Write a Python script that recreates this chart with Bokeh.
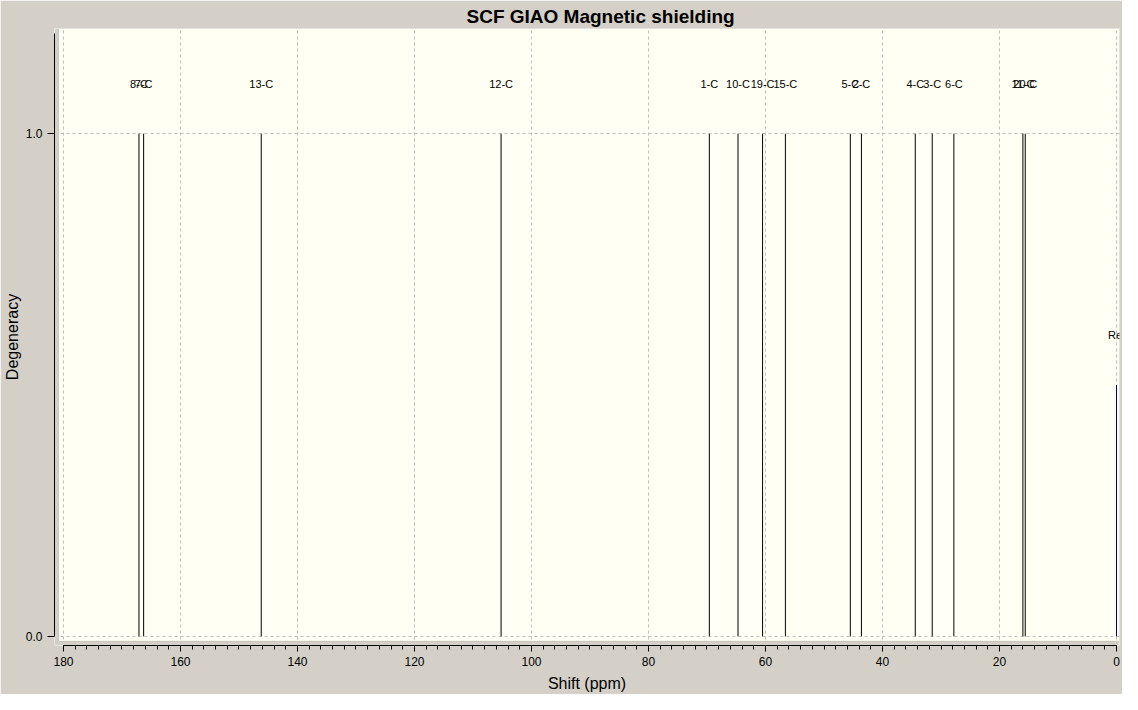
from bokeh.plotting import figure
from bokeh.models import (ColumnDataSource, Range1d, FixedTicker, PrintfTickFormatter,
                          BoxAnnotation)
from bokeh.core.properties import value
from bokeh.embed import file_html
from bokeh.resources import INLINE

# ---- data ----
atom_labels = ["8-C", "7-C", "13-C", "12-C", "1-C", "10-C", "19-C", "15-C",
               "5-C", "2-C", "4-C", "3-C", "6-C", "11-C", "20-C"]
shifts = [167.1, 166.3, 146.2, 105.2, 69.6, 64.7, 60.5, 56.6,
          45.5, 43.6, 34.4, 31.5, 27.8, 16.0, 15.6]
degeneracy = [1.0, 1.0, 1.0, 1.0, 1.0, 1.0, 1.0, 1.0,
              1.0, 1.0, 1.0, 1.0, 1.0, 1.0, 1.0]
ref_labels = ["Ref"]
ref_shifts = [0.0]
ref_degeneracy = [0.5]

x_ticks = [0, 20, 40, 60, 80, 100, 120, 140, 160, 180]
x_minor_ticks = list(range(0, 181, 2))
y_ticks = [0, 1]

# ---- styling ----
GRAY = "#d4d0c8"
CREAM = "#fffff4"
FONT = "Liberation Sans"

X_START, X_END = 181.537, -0.512
CREAM_LEFT = 180.854
Y_START, Y_END = -0.0181, 1.2093
CREAM_BOTTOM = -0.00975

p = figure(width=1122, height=694, output_backend="svg", toolbar_location=None,
           x_range=Range1d(X_START, X_END), y_range=Range1d(Y_START, Y_END),
           title="SCF GIAO Magnetic shielding",
           min_border_left=53, min_border_right=3, min_border_top=28, min_border_bottom=49)

p.background_fill_color = CREAM
p.border_fill_color = GRAY
p.outline_line_color = None

p.title.align = "left"
p.title.text_font = FONT
p.title.text_font_size = "19px"
p.title.text_font_style = "bold"
p.title.text_color = "black"
p.title.standoff = 4
p.title.offset = 412

# grid
p.xgrid.ticker = FixedTicker(ticks=x_ticks)
p.ygrid.ticker = FixedTicker(ticks=y_ticks)
for g in (p.xgrid, p.ygrid):
    g.grid_line_color = "#bdbdbd"
    g.grid_line_dash = "3 3"
    g.grid_line_width = 1

# gray strips between axes and the cream panel
p.add_layout(BoxAnnotation(left=X_START, right=CREAM_LEFT, bottom=Y_START, top=Y_END,
                           fill_color=GRAY, fill_alpha=1.0, line_color=None, level="underlay"))
p.add_layout(BoxAnnotation(left=X_START, right=X_END, bottom=Y_START, top=CREAM_BOTTOM,
                           fill_color=GRAY, fill_alpha=1.0, line_color=None, level="underlay"))
p.add_layout(BoxAnnotation(left=CREAM_LEFT, right=X_END, bottom=CREAM_BOTTOM, top=Y_END,
                           fill_color=None, fill_alpha=0, line_color="#808080", line_width=1,
                           level="underlay"))

# axes
xa = p.xaxis[0]
xa.ticker = FixedTicker(ticks=x_ticks, minor_ticks=x_minor_ticks)
xa.bounds = (0, 180)
xa.axis_label = "Shift (ppm)"
ya = p.yaxis[0]
ya.ticker = FixedTicker(ticks=y_ticks)
ya.bounds = (0, 1.2)
ya.formatter = PrintfTickFormatter(format="%.1f")
ya.axis_label = "Degeneracy"
for ax in (xa, ya):
    ax.axis_line_color = "black"
    ax.axis_line_width = 1
    ax.major_tick_line_color = "black"
    ax.minor_tick_line_color = "black"
    ax.major_tick_in = 0
    ax.minor_tick_in = 0
    ax.major_label_text_font = FONT
    ax.major_label_text_font_size = "12px"
    ax.major_label_text_color = "black"
    ax.axis_label_text_font = FONT
    ax.axis_label_text_font_size = "16px"
    ax.axis_label_text_font_style = "normal"
    ax.axis_label_text_color = "black"
xa.major_tick_out = 6
xa.minor_tick_out = 4
xa.major_label_standoff = 5
xa.axis_label_standoff = 6
ya.major_tick_out = 7
ya.minor_tick_out = 0
ya.minor_tick_line_color = None
ya.major_label_standoff = 5
ya.axis_label_standoff = 2

# peaks
src = ColumnDataSource(dict(shift=shifts, deg=degeneracy, label=atom_labels))
p.segment(x0="shift", y0=0, x1="shift", y1="deg", source=src,
          line_color="black", line_width=1)
p.text(x="shift", y="deg", text="label", source=src, y_offset=-50,
       text_align="center", text_baseline="middle",
       text_font=value(FONT), text_font_size="11px", text_color="black")

ref = ColumnDataSource(dict(shift=ref_shifts, deg=ref_degeneracy, label=ref_labels))
p.segment(x0="shift", y0=0, x1="shift", y1="deg", source=ref,
          line_color="#000080", line_width=1)
p.text(x="shift", y="deg", text="label", source=ref, y_offset=-50,
       text_align="center", text_baseline="middle",
       text_font=value(FONT), text_font_size="11px", text_color="black")

open("out.html", "w").write(file_html(p, INLINE))
